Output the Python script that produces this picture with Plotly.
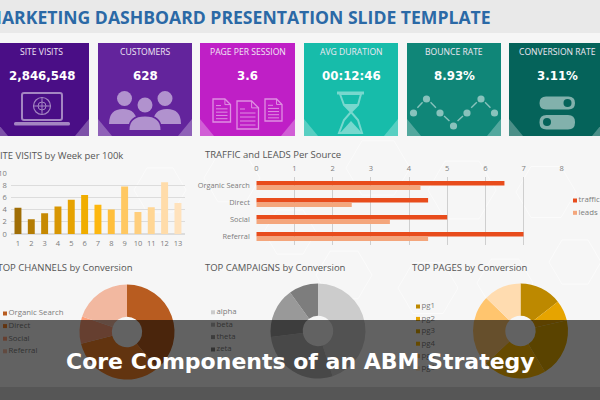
import plotly.graph_objects as go

W, H = 600, 400

# Weekly site visits
weeks = list(range(1, 14))
visits = [4.3, 2.4, 3.4, 4.5, 5.6, 6.4, 4.8, 4.0, 7.8, 3.6, 4.4, 8.5, 5.1]
visit_colors = ["#a06e06", "#b47c04", "#c68902", "#d89602", "#e6a200", "#f0ad00", "#fdb70f",
                "#ffbf3c", "#ffc862", "#ffce7c", "#ffd694", "#ffdcaa", "#ffe2bc"]

# Traffic and leads per source
sources = ["Organic Search", "Direct", "Social", "Referral"]
traffic = [6.5, 4.5, 5.0, 7.0]
leads = [4.3, 2.5, 3.5, 4.5]

# Conversion shares
channels = ["Organic Search", "Direct", "Social", "Referral"]
channel_share = [39, 32, 9.3, 19.7]
channel_colors = ["#b85c20", "#f5822a", "#ff9f78", "#f2b8a0"]

campaigns = ["alpha", "beta", "theta", "zeta"]
campaign_share = [45, 28, 17, 10]
campaign_colors = ["#cccccc", "#b4b4b4", "#999999", "#7d7d7d"]

pages = ["pg1", "pg2", "pg3", "pg4", "pg5", "pg6"]
page_share = [14.4, 7.0, 20.0, 21.6, 24.2, 12.8]
page_colors = ["#bd8900", "#e6a400", "#e0a800", "#ffb800", "#ffc56e", "#ffdcb0"]

# KPI tiles
kpi_labels = ["SITE VISITS", "CUSTOMERS", "PAGE PER SESSION", "AVG DURATION", "BOUNCE RATE", "CONVERSION RATE"]
kpi_values = ["2,846,548", "628", "3.6", "00:12:46", "8.93%", "3.11%"]
kpi_colors = ["#4a0e86", "#63249c", "#bf1fc6", "#17bcaa", "#108678", "#05635a"]
kpi_edges = [(-6, 89), (98, 192), (200, 295), (304, 398), (407, 501), (509, 606)]
kpi_centers = [41.5, 145, 247.5, 351, 454, 557]

GREY = "#7c7c7c"
TITLE = "#555555"
FONT = "Open Sans"


def fx(x):
    return x / W


def fy(y):
    return 1 - y / H


def tint(color, amount):
    r, g, b = (int(color[i:i + 2], 16) for i in (1, 3, 5))
    mix = [round(c + (255 - c) * amount) for c in (r, g, b)]
    return "#%02x%02x%02x" % tuple(mix)


shapes = []


def path(points, fill=None, line=None, width=1, closed=True, dash=None):
    d = "M" + " L".join(f"{fx(x):.5f},{fy(y):.5f}" for x, y in points)
    if closed:
        d += " Z"
    shapes.append(dict(type="path", path=d, xref="paper", yref="paper", layer="below",
                       fillcolor=fill or "rgba(0,0,0,0)",
                       line=dict(color=line or "rgba(0,0,0,0)", width=width, dash=dash or "solid")))


def rect(x0, y0, x1, y1, fill, line=None, width=1):
    path([(x0, y0), (x1, y0), (x1, y1), (x0, y1)], fill, line, width, True)


def rounded(x0, y0, x1, y1, r, fill=None, line=None, width=1):
    d = (f"M{fx(x0 + r):.5f},{fy(y0):.5f} L{fx(x1 - r):.5f},{fy(y0):.5f} "
         f"Q{fx(x1):.5f},{fy(y0):.5f} {fx(x1):.5f},{fy(y0 + r):.5f} "
         f"L{fx(x1):.5f},{fy(y1 - r):.5f} Q{fx(x1):.5f},{fy(y1):.5f} {fx(x1 - r):.5f},{fy(y1):.5f} "
         f"L{fx(x0 + r):.5f},{fy(y1):.5f} Q{fx(x0):.5f},{fy(y1):.5f} {fx(x0):.5f},{fy(y1 - r):.5f} "
         f"L{fx(x0):.5f},{fy(y0 + r):.5f} Q{fx(x0):.5f},{fy(y0):.5f} {fx(x0 + r):.5f},{fy(y0):.5f} Z")
    shapes.append(dict(type="path", path=d, xref="paper", yref="paper", layer="below",
                       fillcolor=fill or "rgba(0,0,0,0)",
                       line=dict(color=line or "rgba(0,0,0,0)", width=width)))


def circle(cx, cy, r, fill=None, line=None, width=1):
    shapes.append(dict(type="circle", xref="paper", yref="paper", layer="below",
                       x0=fx(cx - r), x1=fx(cx + r), y0=fy(cy + r), y1=fy(cy - r),
                       fillcolor=fill or "rgba(0,0,0,0)",
                       line=dict(color=line or "rgba(0,0,0,0)", width=width)))


def shoulders(cx, top, half, bottom, fill):
    d = (f"M{fx(cx - half):.5f},{fy(bottom):.5f} "
         f"Q{fx(cx - half):.5f},{fy(top):.5f} {fx(cx):.5f},{fy(top):.5f} "
         f"Q{fx(cx + half):.5f},{fy(top):.5f} {fx(cx + half):.5f},{fy(bottom):.5f} Z")
    shapes.append(dict(type="path", path=d, xref="paper", yref="paper", layer="below",
                       fillcolor=fill, line=dict(color="rgba(0,0,0,0)", width=0)))


def document(x0, y0, x1, y1, ink):
    fold = (x1 - x0) * 0.32
    path([(x0, y0), (x1 - fold, y0), (x1, y0 + fold), (x1, y1), (x0, y1)], None, ink, 1.3)
    path([(x1 - fold, y0), (x1 - fold, y0 + fold), (x1, y0 + fold)], None, ink, 1, closed=False)
    step = (y1 - y0) / 7
    for i in range(3, 7):
        path([(x0 + 3, y0 + step * i), (x1 - 3, y0 + step * i)], None, ink, 1, closed=False)
    path([(x0 + 3, y0 + step * 2), (x0 + 8, y0 + step * 2)], None, ink, 1, closed=False)


# Header band, footer strip and the faint honeycomb behind the charts
rect(-2, -2, W + 2, 33, "#e9e9e9")
rect(-2, 387, W + 2, H + 2, "#d6d6d6")
for cx, cy, r in [(378, 168, 32), (462, 190, 34), (546, 192, 30), (344, 275, 28), (428, 288, 30),
                  (505, 283, 28), (575, 262, 26), (232, 178, 28), (160, 190, 26), (290, 232, 26)]:
    path([(cx - r, cy), (cx - r / 2, cy - r * 0.85), (cx + r / 2, cy - r * 0.85),
          (cx + r, cy), (cx + r / 2, cy + r * 0.85), (cx - r / 2, cy + r * 0.85)],
         None, "#fbfbfb", 1)

# KPI tiles with their corner wedges
for (x0, x1), color in zip(kpi_edges, kpi_colors):
    rect(x0, 43, x1, 136, color)
    wedge = tint(color, 0.28)
    path([(x0, 119), (x0 + 14, 136), (x0, 136)], wedge)
    path([(x1, 119), (x1 - 14, 136), (x1, 136)], wedge)

# Laptop icon
ink = tint(kpi_colors[0], 0.5)
rounded(22, 93, 62, 120, 2, None, ink, 2)
rounded(14, 122, 70, 125.5, 1.5, ink)
circle(42, 106, 8.5, None, ink, 1.2)
circle(42, 106, 4, None, ink, 1)
path([(33.5, 106), (50.5, 106)], None, ink, 1, closed=False)
path([(42, 97.5), (42, 114.5)], None, ink, 1, closed=False)

# Customers icon
ink = tint(kpi_colors[1], 0.5)
circle(124.5, 98.5, 7.5, ink)
circle(165, 98.5, 7.5, ink)
shoulders(123, 109, 14, 124, ink)
shoulders(167, 109, 14, 124, ink)
circle(145, 105, 8, kpi_colors[1], kpi_colors[1], 1.5)
circle(145, 105, 7.5, ink)
shoulders(145, 115, 17, 130, kpi_colors[1])
shoulders(145, 116.5, 15.5, 130, ink)

# Documents icon
ink = tint(kpi_colors[2], 0.5)
document(213, 99, 230.5, 122, ink)
document(237, 101, 258.5, 129, ink)
document(265, 99, 282, 121, ink)

# Hourglass icon
ink = tint(kpi_colors[3], 0.42)
path([(337, 93), (364, 93)], None, ink, 3, closed=False)
path([(340, 94), (344, 105), (351, 112), (344, 120), (339, 133), (362, 133), (358, 120), (351, 112), (358, 105), (361, 94)],
     None, ink, 2)
path([(343, 104), (359, 104), (351, 112)], ink)
path([(341, 132), (351, 121), (361, 132)], ink)

# Bounce curve icon
ink = tint(kpi_colors[4], 0.5)
dots = [(413.5, 113), (426.5, 99), (440, 113), (453.5, 126), (467, 113), (481, 99), (494.5, 113)]
for (xa, ya), (xb, yb) in zip(dots, dots[1:]):
    path([(xa + (xb - xa) * 0.3, ya + (yb - ya) * 0.3 - 1), (xa + (xb - xa) * 0.7, ya + (yb - ya) * 0.7 - 1)],
         None, ink, 1.4, closed=False)
for cx, cy in dots:
    circle(cx, cy, 3.6, ink)

# Toggle icon
ink = tint(kpi_colors[5], 0.5)
rounded(539.5, 96.5, 575, 109.5, 6.5, ink)
circle(567.5, 103, 4, kpi_colors[5])
rounded(539.5, 115, 575, 129.5, 7, ink)
circle(547, 122, 4, kpi_colors[5])

annotations = []


def label(text, x, y, size, color, anchor="left", family=FONT, bold=False):
    if bold:
        text = f"<b>{text}</b>"
    annotations.append(dict(text=text, x=fx(x), y=fy(y), xref="paper", yref="paper", showarrow=False,
                            xanchor=anchor, yanchor="middle", align=anchor,
                            font=dict(family=family, size=size, color=color)))


for name, value, cx in zip(kpi_labels, kpi_values, kpi_centers):
    label(name, cx, 52, 8.6, "#f0e8f4", "center")
    label(value, cx, 76, 11.8, "#ffffff", "center", "DejaVu Sans", True)

label("TRAFFIC and LEADS Per Source", 203, 155, 9.5, TITLE)
label("TOP CAMPAIGNS by Conversion", 203, 267.5, 9.5, TITLE)
label("TOP PAGES by Conversion", 410, 267.5, 9.5, TITLE)
label("Core Components of an ABM Strategy", 300, 361, 22, "#ffffff", "center", "DejaVu Sans", True)

fig = go.Figure()

fig.add_trace(go.Bar(x=weeks, y=visits, marker=dict(color=visit_colors, line_width=0), width=0.52,
                     showlegend=False, xaxis="x", yaxis="y"))
fig.add_trace(go.Bar(y=sources, x=traffic, orientation="h", marker=dict(color="#e84c1c", line_width=0),
                     name="traffic", showlegend=False, xaxis="x2", yaxis="y2"))
fig.add_trace(go.Bar(y=sources, x=leads, orientation="h", marker=dict(color="#f4a67c", line_width=0),
                     name="leads", showlegend=False, xaxis="x2", yaxis="y2"))


def donut(names, values, colors, cx, cy, radius=47.5):
    fig.add_trace(go.Pie(labels=names, values=values, hole=0.32, sort=False, direction="clockwise",
                         rotation=0, textinfo="none", showlegend=False,
                         marker=dict(colors=colors, line=dict(width=0)),
                         domain=dict(x=[fx(cx - radius), fx(cx + radius)],
                                     y=[fy(cy + radius), fy(cy - radius)])))


donut(channels, channel_share, channel_colors, 127, 332)
donut(campaigns, campaign_share, campaign_colors, 318, 331)
donut(pages, page_share, page_colors, 520.5, 331)


def legend_column(names, colors, x, top, step):
    # Full-canvas pixel axes keep the key below the dimming band
    ys = [top + step * i for i in range(len(names))]
    fig.add_trace(go.Scatter(x=[x] * len(names), y=ys, text=names, mode="markers+text",
                             textposition="middle right", textfont=dict(family=FONT, size=7.8, color=GREY),
                             marker=dict(symbol="square", size=4, color=colors),
                             showlegend=False, hoverinfo="skip", xaxis="x3", yaxis="y3", cliponaxis=False))


def edge_text(text, x, y, size, color, weight="normal"):
    # Text that runs off the canvas edge is placed on the pixel axes so the page clips it
    fig.add_trace(go.Scatter(x=[x], y=[y], text=[text], mode="text", textposition="middle center",
                             textfont=dict(family=FONT, size=size, color=color, weight=weight),
                             showlegend=False, hoverinfo="skip", xaxis="x3", yaxis="y3", cliponaxis=False))


legend_column(channels, channel_colors, 5, 313.5, 12.6)
legend_column(campaigns, campaign_colors, 213, 312.3, 12.4)
legend_column(pages, page_colors, 418, 306.5, 12.4)
legend_column(["traffic", "leads"], ["#e84c1c", "#f4a67c"], 575, 200.5, 12.3)

edge_text("MARKETING DASHBOARD PRESENTATION SLIDE TEMPLATE", 238, 19.5, 17.6, "#2b69a6", "bold")
edge_text("SITE VISITS by Week per 100k", 59, 157, 9.5, TITLE)
edge_text("TOP CHANNELS by Conversion", 65, 269, 9.5, TITLE)

# Dimming band over the lower part of the page, above every other mark
shapes.append(dict(type="rect", xref="paper", yref="paper", layer="above", x0=-0.01, x1=1.01, y0=-0.01, y1=fy(320),
                   fillcolor="rgba(0,0,0,0.6)", line=dict(width=0)))

fig.update_layout(
    width=W, height=H, autosize=False,
    margin=dict(l=0, r=0, t=0, b=0, pad=0, autoexpand=False),
    paper_bgcolor="#f6f6f6", plot_bgcolor="rgba(0,0,0,0)",
    barmode="group", bargap=0.46, bargroupgap=0,
    shapes=shapes, annotations=annotations, hovermode=False,
    xaxis=dict(domain=[fx(11.3), fx(184.6)], range=[0.5, 13.5], tickmode="linear", dtick=1, showgrid=False,
               zeroline=False, showline=False, ticks="outside", ticklen=2, tickcolor="rgba(0,0,0,0)",
               tickfont=dict(family=FONT, size=7.5, color=GREY), fixedrange=True),
    yaxis=dict(domain=[fy(234), fy(173)], range=[0, 10], dtick=2, gridcolor="#dcdcdc", gridwidth=1,
               zeroline=True, zerolinecolor="#dcdcdc", showline=False,
               tickfont=dict(family=FONT, size=7.5, color=GREY), ticks="outside", ticklen=2,
               tickcolor="rgba(0,0,0,0)", fixedrange=True),
    xaxis2=dict(domain=[fx(256.3), fx(561.7)], range=[0, 8], dtick=1, side="top", anchor="y2",
                gridcolor="#cfcfcf", gridwidth=1, zeroline=False, showline=False,
                tickfont=dict(family=FONT, size=7.5, color=GREY), ticks="outside", ticklen=2,
                tickcolor="rgba(0,0,0,0)", fixedrange=True),
    yaxis2=dict(domain=[fy(245), fy(177)], anchor="x2", autorange="reversed", showgrid=False, zeroline=False,
                showline=False, tickfont=dict(family=FONT, size=7.4, color=GREY), ticks="outside", ticklen=4,
                tickcolor="rgba(0,0,0,0)", fixedrange=True),
    xaxis3=dict(domain=[0, 1], range=[0, W], visible=False, anchor="y3", fixedrange=True),
    yaxis3=dict(domain=[0, 1], range=[H, 0], visible=False, anchor="x3", fixedrange=True),
)

fig.write_html("out.html", config=dict(displayModeBar=False))
